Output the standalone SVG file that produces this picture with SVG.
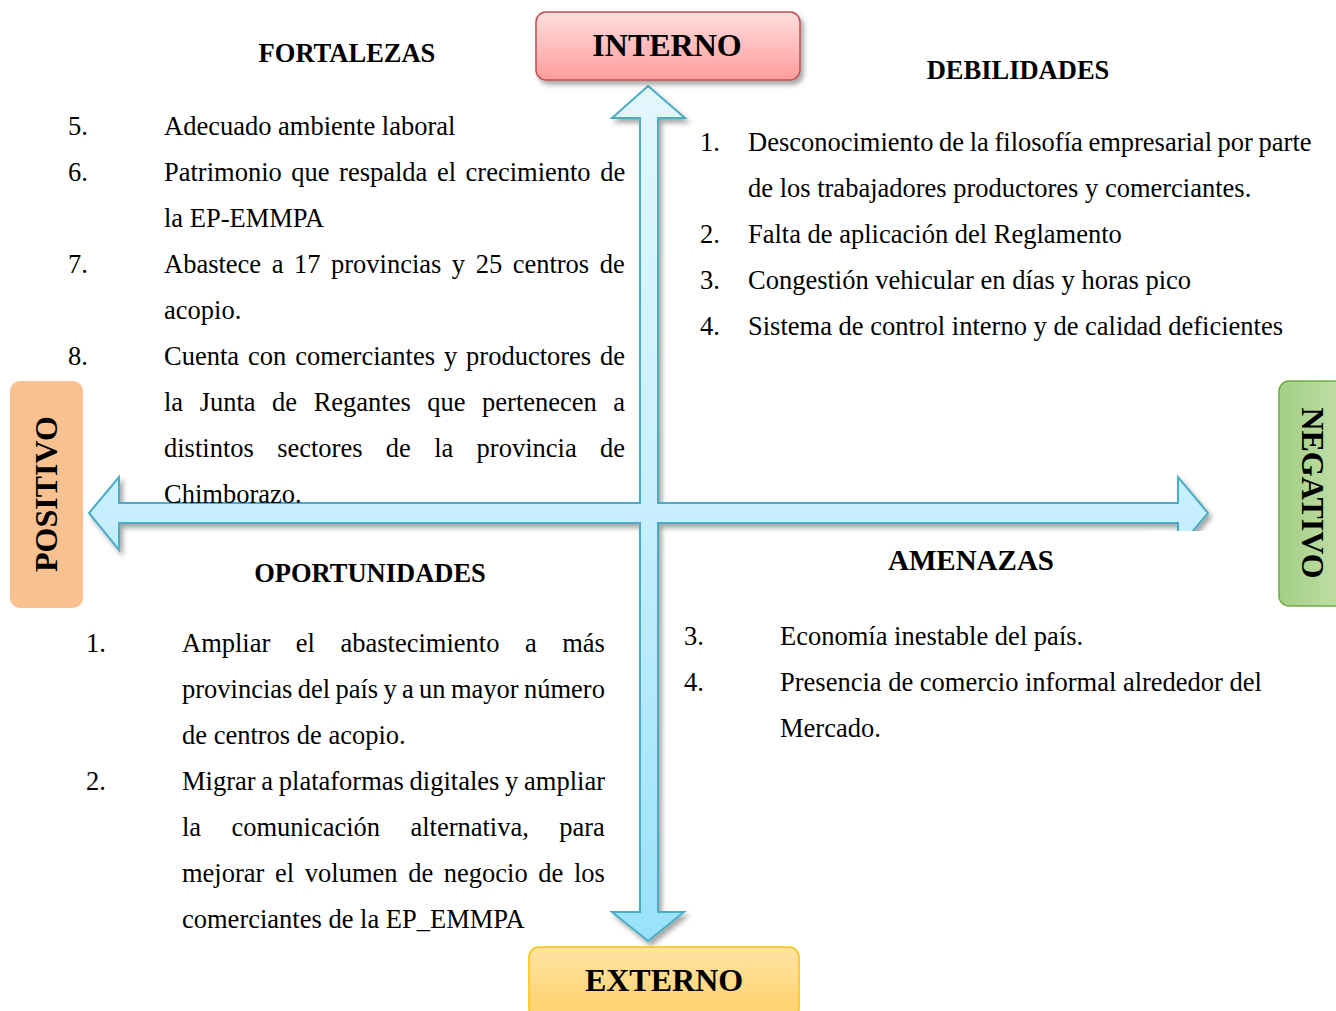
<svg xmlns="http://www.w3.org/2000/svg" width="1336" height="1011" viewBox="0 0 1336 1011">
<style>
.b{font-family:"Liberation Serif","Times New Roman",serif;font-size:26.5px;fill:#000}
.h{font-family:"Liberation Serif","Times New Roman",serif;font-size:26.5px;font-weight:bold;fill:#000;text-anchor:middle}
.t{font-family:"Liberation Serif","Times New Roman",serif;font-size:32px;font-weight:bold;fill:#000;text-anchor:middle}
</style>
<defs>
<filter id="sh" x="-20%" y="-20%" width="140%" height="140%">
<feDropShadow dx="3" dy="4" stdDeviation="2.5" flood-color="#000" flood-opacity="0.35"/>
</filter>
<linearGradient id="gArrow" x1="0" y1="86" x2="0" y2="941" gradientUnits="userSpaceOnUse">
<stop offset="0" stop-color="#e2f7fc"/>
<stop offset="0.5" stop-color="#c6efff"/>
<stop offset="1" stop-color="#98e2f8"/>
</linearGradient>
<linearGradient id="gRed" x1="0" y1="0" x2="0" y2="1">
<stop offset="0" stop-color="#ffdede"/>
<stop offset="1" stop-color="#ff9c9c"/>
</linearGradient>
<linearGradient id="gYel" x1="0" y1="0" x2="0" y2="1">
<stop offset="0" stop-color="#ffe3a6"/>
<stop offset="1" stop-color="#ffd06a"/>
</linearGradient>
<linearGradient id="gGrn" x1="0" y1="0" x2="1" y2="0">
<stop offset="0" stop-color="#a2cf85"/>
<stop offset="1" stop-color="#c4e0ad"/>
</linearGradient>
<clipPath id="cut">
<path clip-rule="evenodd" d="M0,0H1336V1011H0Z M1150,531H1260V620H1150Z"/>
</clipPath>
</defs>

<g id="connectors">
<g clip-path="url(#cut)">
<path filter="url(#sh)" fill="url(#gArrow)" stroke="#4bacc6" stroke-width="2" stroke-linejoin="miter"
 d="M648,86 L685,118 L658,118 L658,503 L1178,503 L1178,477 L1208,513 L1178,549 L1178,523 L658,523 L658,912 L684,912 L648,941 L612,912 L640,912 L640,523 L119,523 L119,550 L89,513 L119,477 L119,503 L640,503 L640,118 L612,118 Z"/>
</g>
</g>

<g id="interno">
<rect x="536" y="12" width="264" height="68" rx="10" fill="url(#gRed)" stroke="#c0504d" stroke-width="1.5" filter="url(#sh)"/>
<text class="t" x="667" y="56">INTERNO</text>
</g>

<g id="externo">
<rect x="529" y="947" width="270" height="72" rx="10" fill="url(#gYel)" stroke="#ffc000" stroke-width="1.5"/>
<text class="t" x="664" y="991">EXTERNO</text>
</g>

<g id="positivo">
<rect x="10" y="381" width="73" height="227" rx="10" fill="#f9c18f"/>
<text class="t" transform="translate(57,494) rotate(-90)" x="0" y="0">POSITIVO</text>
</g>

<g id="negativo">
<rect x="1279" y="381" width="72" height="225" rx="10" fill="url(#gGrn)" stroke="#70ad47" stroke-width="1.5"/>
<text class="t" transform="translate(1302,493) rotate(90)" x="0" y="0">NEGATIVO</text>
</g>

<g id="fortalezas">
<text class="h" x="347" y="62">FORTALEZAS</text>
<text class="b" x="68" y="135">5.</text>
<text class="b" x="164" y="135">Adecuado ambiente laboral</text>
<text class="b" x="68" y="181">6.</text>
<text class="b" x="164" y="181" word-spacing="2.9">Patrimonio que respalda el crecimiento de</text>
<text class="b" x="164" y="227">la EP-EMMPA</text>
<text class="b" x="68" y="273">7.</text>
<text class="b" x="164" y="273" word-spacing="3.9">Abastece a 17 provincias y 25 centros de</text>
<text class="b" x="164" y="319">acopio.</text>
<text class="b" x="68" y="365">8.</text>
<text class="b" x="164" y="365" word-spacing="2.3">Cuenta con comerciantes y productores de</text>
<text class="b" x="164" y="411" word-spacing="9.9">la Junta de Regantes que pertenecen a</text>
<text class="b" x="164" y="457" word-spacing="16.7">distintos sectores de la provincia de</text>
<text class="b" x="164" y="503">Chimborazo.</text>
</g>

<g id="debilidades">
<text class="h" x="1018" y="79">DEBILIDADES</text>
<text class="b" x="700" y="151">1.</text>
<text class="b" x="748" y="151" word-spacing="-1">Desconocimiento de la filosofía empresarial por parte</text>
<text class="b" x="748" y="197">de los trabajadores productores y comerciantes.</text>
<text class="b" x="700" y="243">2.</text>
<text class="b" x="748" y="243">Falta de aplicación del Reglamento</text>
<text class="b" x="700" y="289">3.</text>
<text class="b" x="748" y="289">Congestión vehicular en días y horas pico</text>
<text class="b" x="700" y="335">4.</text>
<text class="b" x="748" y="335">Sistema de control interno y de calidad deficientes</text>
</g>

<g id="oportunidades">
<text class="h" x="370" y="582">OPORTUNIDADES</text>
<text class="b" x="86" y="652">1.</text>
<text class="b" x="182" y="652" word-spacing="18.9">Ampliar el abastecimiento a más</text>
<text class="b" x="182" y="698" word-spacing="-1.3">provincias del país y a un mayor número</text>
<text class="b" x="182" y="744">de centros de acopio.</text>
<text class="b" x="86" y="790">2.</text>
<text class="b" x="182" y="790" word-spacing="-0.9">Migrar a plataformas digitales y ampliar</text>
<text class="b" x="182" y="836" word-spacing="23.7">la comunicación alternativa, para</text>
<text class="b" x="182" y="882" word-spacing="4">mejorar el volumen de negocio de los</text>
<text class="b" x="182" y="928">comerciantes de la EP_EMMPA</text>
</g>

<g id="amenazas">
<text class="h" x="971" y="570" style="font-size:29px">AMENAZAS</text>
<text class="b" x="684" y="645">3.</text>
<text class="b" x="780" y="645">Economía inestable del país.</text>
<text class="b" x="684" y="691">4.</text>
<text class="b" x="780" y="691">Presencia de comercio informal alrededor del</text>
<text class="b" x="780" y="737">Mercado.</text>
</g>
</svg>
